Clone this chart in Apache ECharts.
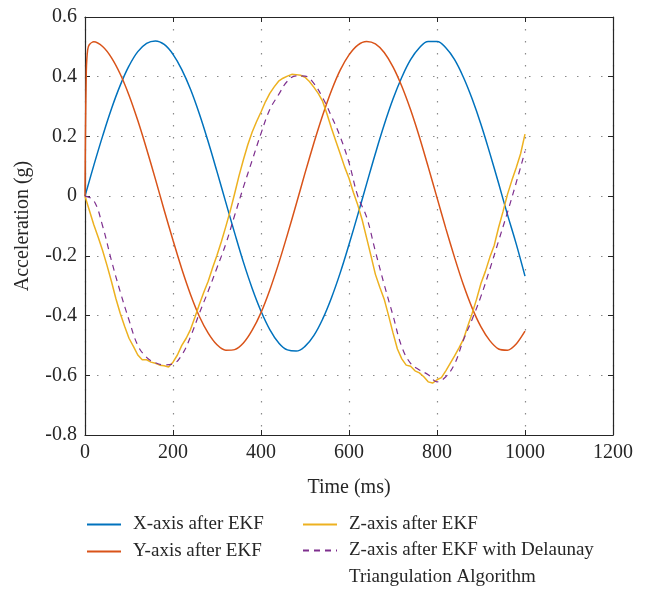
<!DOCTYPE html>
<html>
<head>
<meta charset="utf-8">
<script src="https://cdn.jsdelivr.net/npm/echarts@6/dist/echarts.min.js"></script>
<style>
html,body{margin:0;padding:0;background:#fff;}
#chart{width:654px;height:592px;}
</style>
</head>
<body>
<div id="chart"></div>
<script>
// ---- Data ----
const xTicks = [0, 200, 400, 600, 800, 1000, 1200];
const yTicks = [-0.8, -0.6, -0.4, -0.2, 0, 0.2, 0.4, 0.6];

const timeCoarse = [0,20,40,60,80,100,120,140,160,180,200,220,240,260,280,300,320,340,360,380,400,420,440,460,480,500,520,540,560,580,600,620,640,660,680,700,720,740,760,780,800,820,840,860,880,900,920,940,960,980,1000];

const xAxisEKF = [0,0.103,0.201,0.292,0.371,0.436,0.484,0.512,0.520,0.508,0.475,0.424,0.357,0.275,0.182,0.082,-0.021,-0.123,-0.221,-0.309,-0.385,-0.447,-0.491,-0.515,-0.519,-0.503,-0.467,-0.412,-0.341,-0.257,-0.162,-0.062,0.041,0.143,0.239,0.325,0.398,0.457,0.497,0.518,0.518,0.497,0.457,0.398,0.325,0.240,0.144,0.043,-0.061,-0.160,-0.268];

const timeY = [0,1,3,6,10,20,40,60,80,100,120,140,160,180,200,220,240,260,280,300,320,340,360,380,400,420,440,460,480,500,520,540,560,580,600,620,640,660,680,700,720,740,760,780,800,820,840,860,880,900,920,940,960,980,1000];
const yAxisEKF = [0,0.20,0.42,0.49,0.508,0.517,0.501,0.464,0.409,0.338,0.253,0.158,0.057,-0.047,-0.148,-0.244,-0.330,-0.403,-0.459,-0.498,-0.516,-0.514,-0.492,-0.449,-0.390,-0.314,-0.226,-0.129,-0.027,0.077,0.177,0.270,0.353,0.422,0.473,0.506,0.518,0.510,0.481,0.433,0.368,0.289,0.198,0.098,-0.005,-0.108,-0.206,-0.297,-0.375,-0.438,-0.484,-0.512,-0.516,-0.495,-0.452];

const timeFine = [0,10,20,30,40,50,60,70,80,90,100,110,120,130,140,150,160,170,180,190,200,210,220,230,240,250,260,270,280,290,300,310,320,330,340,350,360,370,380,390,400,410,420,430,440,450,460,470,480,490,500,510,520,530,540,550,560,570,580,590,600,610,620,630,640,650,660,670,680,690,700,710,720,730,740,750,760,770,780,790,800,810,820,830,840,850,860,870,880,890,900,910,920,930,940,950,960,970,980,990,1000];
const zAxisEKF = [0.000,-0.048,-0.096,-0.138,-0.182,-0.232,-0.285,-0.342,-0.392,-0.436,-0.476,-0.503,-0.532,-0.548,-0.548,-0.556,-0.560,-0.566,-0.568,-0.572,-0.556,-0.532,-0.500,-0.476,-0.446,-0.405,-0.362,-0.322,-0.285,-0.240,-0.198,-0.152,-0.102,-0.050,0.008,0.068,0.122,0.172,0.215,0.250,0.282,0.316,0.344,0.366,0.385,0.395,0.402,0.408,0.407,0.405,0.398,0.384,0.365,0.344,0.318,0.275,0.228,0.185,0.142,0.098,0.060,0.012,-0.030,-0.080,-0.140,-0.200,-0.262,-0.305,-0.345,-0.400,-0.458,-0.512,-0.545,-0.566,-0.570,-0.585,-0.592,-0.605,-0.622,-0.626,-0.615,-0.608,-0.585,-0.560,-0.535,-0.508,-0.480,-0.435,-0.392,-0.345,-0.292,-0.252,-0.205,-0.165,-0.105,-0.052,0.005,0.052,0.095,0.142,0.208];

const zAxisDelaunay = [0.000,-0.015,-0.100,-0.215,-0.320,-0.415,-0.500,-0.540,-0.558,-0.565,-0.562,-0.532,-0.470,-0.392,-0.318,-0.240,-0.160,-0.065,0.030,0.120,0.210,0.290,0.340,0.385,0.403,0.402,0.378,0.330,0.268,0.199,0.112,0.000,-0.070,-0.185,-0.296,-0.400,-0.505,-0.560,-0.582,-0.598,-0.622,-0.605,-0.562,-0.482,-0.412,-0.335,-0.245,-0.150,-0.055,0.045,0.150];

const seriesNames = ['X-axis after EKF', 'Y-axis after EKF', 'Z-axis after EKF', 'Z-axis after EKF with Delaunay Triangulation Algorithm'];
const seriesColors = ['#0072BD', '#D95319', '#EDB120', '#7E2F8E'];

// ---- Chart ----
const pair = (ts, vs) => ts.map((t, i) => [t, vs[i]]);
const FONT = '"Liberation Serif", "DejaVu Serif", serif';
const TXT = '#262626';
const FS = 20;
const LFS = 19;

const chart = echarts.init(document.getElementById('chart'), null, {renderer: 'canvas'});

const axisLine = {show: true, onZero: false, lineStyle: {color: TXT, width: 1.2}};
const axisTick = {show: true, inside: true, length: 5, lineStyle: {color: TXT, width: 1}};
const splitLine = {show: true, lineStyle: {color: '#8a8a8a', width: 1.2, type: [1.5, 10.5]}};

const richText = (lh) => ({
  fontFamily: FONT, fontSize: LFS, color: TXT, lineHeight: lh,
  rich: {t: {fontFamily: FONT, fontSize: LFS, color: TXT, lineHeight: lh, padding: [0, 0, 0, 7]}}
});

const legendCommon = {
  orient: 'vertical', padding: 0, itemGap: 8, itemWidth: 34, itemHeight: 14,
  itemStyle: {opacity: 0},
  textStyle: richText(19),
  formatter: name => '{t|' + name + '}'
};

chart.setOption({
  animation: false,
  backgroundColor: '#fff',
  textStyle: {fontFamily: FONT, color: TXT},
  grid: {left: 85, right: 41, top: 17, bottom: 157, containLabel: false},
  xAxis: [{
    type: 'value', min: xTicks[0], max: xTicks[xTicks.length - 1], interval: 200,
    position: 'bottom',
    name: 'Time (ms)', nameLocation: 'middle', nameGap: 43,
    nameTextStyle: {fontFamily: FONT, fontSize: FS, color: TXT},
    axisLine, axisTick, splitLine,
    axisLabel: {fontFamily: FONT, fontSize: FS, color: TXT, margin: 8, formatter: v => String(v)}
  }, {
    type: 'value', min: xTicks[0], max: xTicks[xTicks.length - 1], interval: 200,
    position: 'top', axisLine, axisTick, splitLine: {show: false}, axisLabel: {show: false}
  }],
  yAxis: [{
    type: 'value', min: yTicks[0], max: yTicks[yTicks.length - 1], interval: 0.2,
    position: 'left',
    name: 'Acceleration (g)', nameLocation: 'middle', nameGap: 52,
    nameTextStyle: {fontFamily: FONT, fontSize: FS, color: TXT},
    axisLine, axisTick, splitLine,
    axisLabel: {fontFamily: FONT, fontSize: FS, color: TXT, margin: 8,
      formatter: v => Math.abs(v) < 1e-9 ? '0' : v.toFixed(1)}
  }, {
    type: 'value', min: yTicks[0], max: yTicks[yTicks.length - 1], interval: 0.2,
    position: 'right', axisLine, axisTick, splitLine: {show: false}, axisLabel: {show: false}
  }],
  legend: [
    Object.assign({}, legendCommon, {left: 86, top: 515, data: [seriesNames[0], seriesNames[1]]}),
    Object.assign({}, legendCommon, {left: 302, top: 515, data: [seriesNames[2]]}),
    Object.assign({}, legendCommon, {
      left: 302, top: 510, data: [seriesNames[3]],
      textStyle: richText(27),
      formatter: () => '{t| }\n{t|Z-axis after EKF with Delaunay}\n{t|Triangulation Algorithm}'
    })
  ],
  series: [{
    name: seriesNames[0], type: 'line',
    data: pair(timeCoarse, xAxisEKF), symbol: 'none', smooth: 0.4,
    lineStyle: {color: seriesColors[0], width: 1.5}, itemStyle: {color: seriesColors[0]}
  }, {
    name: seriesNames[1], type: 'line',
    data: pair(timeY, yAxisEKF), symbol: 'none', smooth: 0.25,
    lineStyle: {color: seriesColors[1], width: 1.5}, itemStyle: {color: seriesColors[1]}
  }, {
    name: seriesNames[2], type: 'line',
    data: pair(timeFine, zAxisEKF), symbol: 'none', smooth: false,
    lineStyle: {color: seriesColors[2], width: 1.5}, itemStyle: {color: seriesColors[2]}
  }, {
    name: seriesNames[3], type: 'line',
    data: pair(timeCoarse, zAxisDelaunay), symbol: 'none', smooth: 0.4,
    lineStyle: {color: seriesColors[3], width: 1.2, type: [6, 5]}, itemStyle: {color: seriesColors[3]}
  }]
});
</script>
</body>
</html>
